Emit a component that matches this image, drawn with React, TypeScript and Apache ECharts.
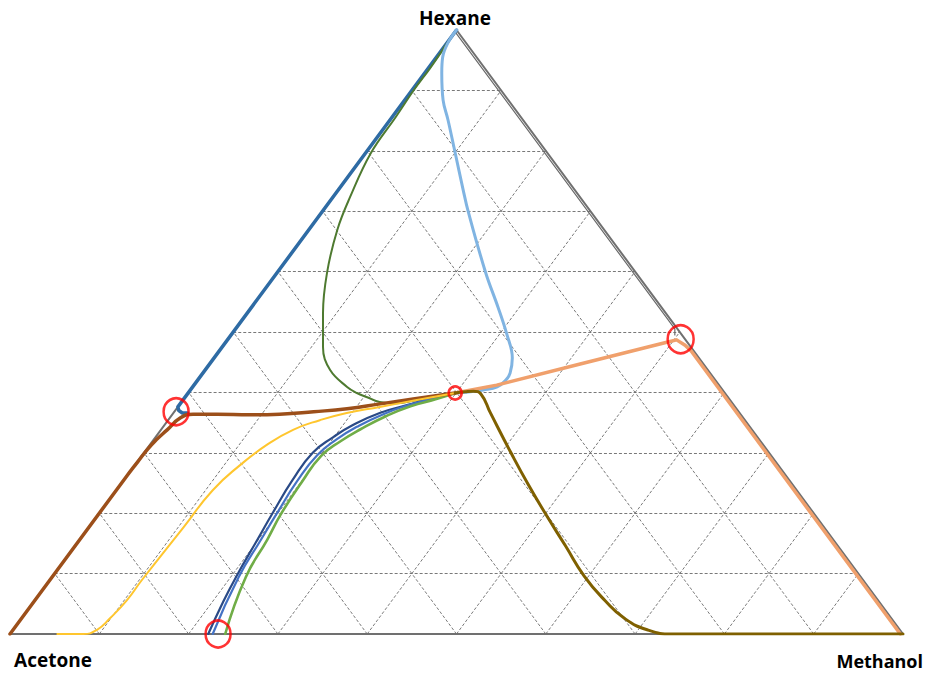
import React, { useEffect, useRef } from "react";
import * as echarts from "echarts";

// Every composition is [hexane %, methanol %]; acetone makes up the rest.
type Comp = [number, number];

const gridSteps = [10, 20, 30, 40, 50, 60, 70, 80, 90];

const triangle: Comp[] = [[0, 0], [0, 100], [100, 0], [0, 0]];

const vertexLabels = ["Hexane", "Acetone", "Methanol"];

// Residue curves
const acetoneHexaneEdge: Comp[] = [
  [100, 0], [37.6, 0], [37.0, 0.4], [36.6, 1.0], [36.6, 1.6],
];

const hexaneLoop: Comp[] = [
  [100, 0], [97.9, 0.05], [93.9, 0.2], [90.1, 0.2], [85.6, 0.4], [79.6, 0.6],
  [72.4, 1.9], [66.9, 3.2], [59.8, 5.6], [53.1, 8.5], [47.5, 11.3], [43.7, 14.0],
  [40.9, 17.3], [39.9, 18.9], [39.2, 20.4], [38.4, 22.2], [38.2, 24.2],
  [38.6, 25.8], [39.2, 28.5], [39.9, 29.9],
];

const hexaneInner: Comp[] = [
  [100, 0], [97.9, 0.1], [95.5, 0.7], [92.9, 1.9], [88.4, 4.3], [85.1, 6.5],
  [80.0, 9.8], [73.5, 14.0], [70.0, 16.3], [59.9, 23.3], [54.1, 27.6],
  [49.8, 30.7], [45.7, 33.4], [43.2, 34.4], [42.1, 34.5], [40.9, 34.1],
  [40.4, 32.8], [40.1, 31.5], [39.9, 29.9],
];

const methanolHexaneBranch: Comp[] = [
  [39.9, 29.9], [41.2, 33.9], [44.7, 41.5], [48.3, 49.4], [48.7, 50.3],
  [47.8, 51.7], [46.8, 52.9], [0, 99.7],
];

const hexaneMethanolEdge: Comp[] = [
  [100, 0], [99.5, 0.2], [50.5, 49.2], [49.5, 49.7],
];

const acetoneEdgeBranch: Comp[] = [
  [0, 0], [26.0, 0], [28.5, 0.05], [30.5, 0.1], [32.1, 0.3], [33.8, 0.7],
  [35.8, 1.2], [36.4, 2.3], [36.4, 5.0], [36.3, 8.7], [36.4, 12.0],
  [36.8, 15.6], [37.3, 19.1], [38.1, 22.4], [38.9, 25.7], [39.9, 29.9],
];

const acetoneBaseBranch: Comp[] = [
  [0, 5.3], [0, 8.2], [0.7, 9.4], [2.6, 9.9], [5.6, 10.3], [8.9, 10.3],
  [17.7, 10.6], [23.8, 10.8], [28.0, 11.8], [31.3, 13.1],
  [33.8, 14.8], [35.4, 17.0], [36.6, 19.4], [37.6, 22.6], [38.6, 25.8],
  [39.9, 29.9],
];

const binaryNavy: Comp[] = [
  [0, 22.2], [4.8, 21.3], [9.4, 20.6], [15.6, 19.9], [20.0, 19.4], [25.5, 18.9],
  [30.0, 18.9], [32.6, 19.9], [34.6, 21.1], [36.6, 23.1], [37.9, 25.5],
  [39.1, 27.8], [39.9, 29.9],
];

const binaryBlue: Comp[] = [
  [0, 22.7], [9.4, 20.9], [15.6, 20.3], [20.0, 19.9], [25.3, 19.5], [29.6, 19.6],
  [32.3, 20.5], [34.3, 21.7], [36.4, 23.6], [37.9, 25.7], [39.1, 28.1],
  [39.9, 29.9],
];

const binaryGreen: Comp[] = [
  [0, 24.1], [9.4, 21.7], [15.6, 21.0], [20.0, 20.4], [25.2, 20.1], [29.5, 20.1],
  [32.0, 21.1], [33.9, 22.3], [36.1, 24.1], [37.7, 26.0], [38.9, 28.3],
  [39.9, 29.9],
];

const methanolBaseBranch: Comp[] = [
  [39.9, 29.9], [40.1, 30.9], [40.2, 31.8], [39.7, 32.9], [36.6, 35.5],
  [30.0, 41.1], [24.7, 45.7], [19.7, 50.2], [14.6, 54.9], [9.6, 59.5],
  [5.5, 63.9], [2.6, 67.5], [0.7, 71.0], [0, 74.2], [0, 100],
];

// Azeotropes: acetone–hexane, hexane–methanol, acetone–methanol, ternary
const azeotropes: Comp[] = [[36.8, 0.2], [48.8, 50.7], [0, 23.3], [39.9, 29.9]];
const azeotropeSizes: [number, number][] = [[25, 27], [26, 28], [25, 27], [13, 13]];

const toXY = (c: Comp): [number, number] => [c[1] + c[0] / 2, c[0]];

const curve = (pts: Comp[], color: string, width: number, z: number, smooth: number | boolean = 0.3) => ({
  type: "line",
  data: pts.map(toXY),
  symbol: "none",
  showSymbol: false,
  smooth,
  silent: true,
  z,
  lineStyle: { color, width, cap: "round", join: "round" },
});

export default function App() {
  const ref = useRef<HTMLDivElement>(null);

  useEffect(() => {
    if (!ref.current) return;
    const chart = echarts.init(ref.current, null, { renderer: "svg" });

    const gridLines: { coords: [number, number][] }[] = [];
    for (const s of gridSteps) {
      gridLines.push({ coords: [toXY([s, 0]), toXY([s, 100 - s])] });
      gridLines.push({ coords: [toXY([0, s]), toXY([100 - s, s])] });
      gridLines.push({ coords: [toXY([0, 100 - s]), toXY([100 - s, 0])] });
    }

    const labelFont = 'bold 19px "Open Sans", sans-serif';
    const cornerFont = 'bold 18px "Open Sans", sans-serif';

    chart.setOption({
      animation: false,
      backgroundColor: "#ffffff",
      grid: { left: 10, right: 24, top: 30, bottom: 40 },
      xAxis: { type: "value", min: 0, max: 100, show: false },
      yAxis: { type: "value", min: 0, max: 100, show: false },
      series: [
        {
          type: "lines",
          coordinateSystem: "cartesian2d",
          data: gridLines,
          silent: true,
          z: 1,
          lineStyle: { color: "#6a6a6a", width: 1, type: [3, 2], opacity: 0.9 },
        },
        curve(triangle, "#707070", 2, 2, false),
        curve(hexaneMethanolEdge, "#6a6a6a", 1.2, 3, false),
        curve(acetoneHexaneEdge, "#2E6BA4", 3.5, 4, false),
        curve(hexaneLoop, "#4E7A30", 2, 5, 0.4),
        curve(hexaneInner, "#80B4E2", 3, 6, 0.4),
        curve(methanolHexaneBranch, "#F0A06C", 3.5, 7, false),
        curve(binaryNavy, "#2A4A86", 2.2, 8, 0.5),
        curve(binaryBlue, "#4472C4", 2.2, 9, 0.5),
        curve(binaryGreen, "#70AD47", 2.6, 10, 0.5),
        curve(acetoneEdgeBranch, "#9C4F1A", 3.5, 11, 0.5),
        curve(acetoneBaseBranch, "#FFC62E", 2, 12, 0.5),
        curve(methanolBaseBranch, "#7F6000", 3, 13, 0.5),
        {
          type: "scatter",
          data: azeotropes.map((c, i) => ({ value: toXY(c), symbolSize: azeotropeSizes[i] })),
          symbol: "circle",
          silent: true,
          z: 20,
          itemStyle: { color: "rgba(0,0,0,0)", borderColor: "#FF0000", borderWidth: 2.6 },
        },
      ],
      graphic: [
        { type: "text", x: 455, y: 18, style: { text: vertexLabels[0], font: labelFont, fill: "#000", align: "center", verticalAlign: "middle" } },
        { type: "text", x: 53, y: 660, style: { text: vertexLabels[1], font: labelFont, fill: "#000", align: "center", verticalAlign: "middle" } },
        { type: "text", x: 923, y: 661, style: { text: vertexLabels[2], font: cornerFont, fill: "#000", align: "right", verticalAlign: "middle" } },
      ],
    });

    return () => chart.dispose();
  }, []);

  return (
    <div
      ref={ref}
      style={{ position: "fixed", left: 0, top: 0, width: 927, height: 674, background: "#fff" }}
    />
  );
}
